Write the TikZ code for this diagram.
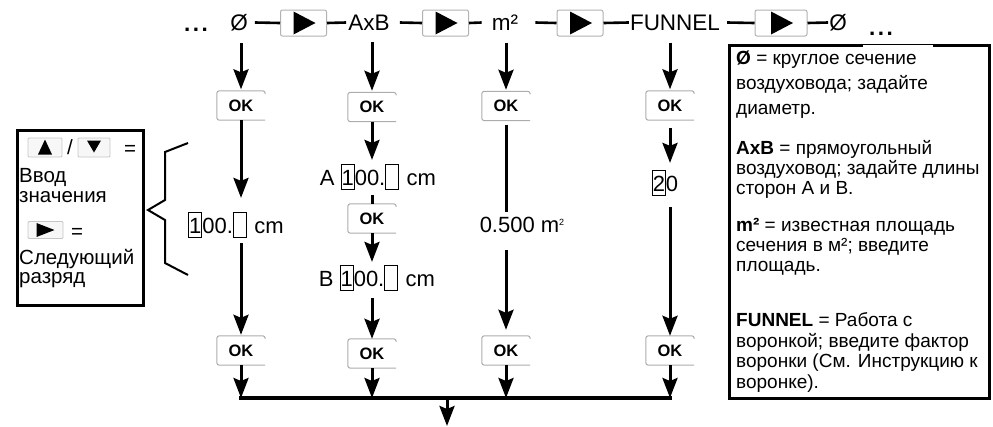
\documentclass[tikz,border=0pt]{standalone}
\usepackage{fontspec}
\setmainfont{Liberation Sans}
\usetikzlibrary{arrows.meta}

% font sizes used in the chart
\newcommand\fTop{\fontsize{22.5}{24}\selectfont}
\newcommand\fVal{\fontsize{22}{24}\selectfont}
\newcommand\fOK{\fontsize{16.5}{17}\selectfont\bfseries}
\newcommand\fLeg{\fontsize{19}{20}\selectfont}
\newcommand\fKey{\fontsize{20.5}{22}\selectfont}
% framed digit of an entry field
\newcommand\dgbox[1]{{\setlength\fboxsep{0pt}\setlength\fboxrule{0.9pt}\fbox{\rule[-4pt]{0pt}{24pt}#1}}}
% widely spaced ellipsis of the selection row
\newcommand\wdots{\textbf{.\kern2.5pt.\kern2.5pt.}}

\tikzset{
  link/.style={line width=2.6pt},
  arr/.style={line width=3pt, -{Stealth[length=20pt,width=15pt,inset=3pt]}},
  plain/.style={line width=3pt},
  okbox/.style={minimum width=48pt, minimum height=29pt, inner sep=0pt, font=\fOK},
  okframe/.style={draw=gray!65, line width=1pt, rounded corners=2.5pt},
  btn/.style={draw=gray!60, line width=1pt, rounded corners=2pt, fill=white,
              minimum width=46pt, minimum height=26pt, inner sep=0pt},
  sbtn/.style={draw=gray!45, fill=gray!6, line width=0.8pt, rounded corners=1pt,
               minimum width=33pt, minimum height=18pt, inner sep=0pt},
  frame/.style={line width=3pt},
  val/.style={inner sep=0pt, font=\fVal},
  toptxt/.style={inner sep=0pt, font=\fTop},
  legtxt/.style={inner sep=0pt, font=\fLeg, anchor=base west},
  keytxt/.style={inner sep=0pt, font=\fKey},
}

\begin{document}
\begin{tikzpicture}[x=1pt,y=-1pt]
\useasboundingbox (0,0) rectangle (993,426);

% ---- selection row -------------------------------------------------
\node[toptxt, anchor=base] (dotsL) at (196,31) {\wdots};
\node[toptxt] (phiA) at (239,22.5) {Ø};
\node[btn] (b1) at (303.5,23) {};
\node[toptxt] (axb) at (369,22.5) {AxB};
\node[btn] (b2) at (445.5,23) {};
\node[toptxt] (msq) at (505,22.5) {m²};
\node[btn] (b3) at (580,23) {};
\node[toptxt] (fun) at (675,22.5) {FUNNEL};
\node[btn, minimum width=52pt] (b4) at (781,23) {};
\node[toptxt] (phiB) at (838,22.5) {Ø};
\node[toptxt, anchor=base] (dotsR) at (881,35) {\wdots};

\foreach \b in {b1,b2,b3,b4}
  \fill ([shift={(-10,-11.5)}]\b.center) -- ([shift={(-10,11.5)}]\b.center)
        -- ([shift={(12,0)}]\b.center) -- cycle;

\draw[link] ([xshift=7pt]phiA.east) -- (b1.west);
\draw[link] (b1.east) -- ([xshift=-2pt]axb.west);
\draw[link] ([xshift=10pt]axb.east) -- (b2.west);
\draw[link] (b2.east) -- ([xshift=-10pt]msq.west);
\draw[link] ([xshift=17pt]msq.east) -- (b3.west);
\draw[link] (b3.east) -- ([xshift=-1pt]fun.west);
\draw[link] ([xshift=7pt]fun.east) -- (b4.west);
\draw[link] (b4.east) -- ([xshift=-1pt]phiB.west);

% ---- OK keys ---------------------------------------------------------
\node[okbox] (ok11) at (241,105.5) {OK};
\node[okbox] (ok12) at (372,107) {OK};
\node[okbox] (ok13) at (506,106) {OK};
\node[okbox] (ok14) at (670,105.5) {OK};
\node[okbox] (ok22) at (372,218.5) {OK};
\node[okbox] (ok31) at (241,350.5) {OK};
\node[okbox] (ok32) at (372,353.5) {OK};
\node[okbox] (ok33) at (506,350.5) {OK};
\node[okbox] (ok34) at (670,350.5) {OK};
\foreach \n in {ok11,ok12,ok13,ok14,ok22,ok31,ok32,ok33,ok34}
  \draw[okframe] ([yshift=-3pt]\n.north east) -- (\n.north east) -- (\n.north west)
                 -- (\n.south west) -- (\n.south east);

% ---- entry fields ------------------------------------------------------
\node[val] (v1) at (236,225) {\dgbox{1}00.\dgbox{\phantom{0}}\,\,cm};
\node[val] (vA) at (378,177) {A \dgbox{1}00.\dgbox{\phantom{0}}\,\,cm};
\node[val] (vB) at (377,278) {B \dgbox{1}00.\dgbox{\phantom{0}}\,\,cm};
\node[val, minimum height=26pt] (v3) at (522,225) {0.500 m\raisebox{7pt}{\fontsize{9}{9}\selectfont 2}};
\node[val] (v4) at (665,183) {\dgbox{2}0};

% ---- flow arrows -------------------------------------------------------
\draw[arr, shorten <=12pt] (ok11.north |- phiA.south) -- ([yshift=1.5pt]ok11.north);
\draw[arr, shorten <=12pt] (ok12.north |- axb.south) -- ([yshift=1.5pt]ok12.north);
\draw[arr, shorten <=12pt] (ok13.north |- msq.south) -- ([yshift=1.5pt]ok13.north);
\draw[arr, shorten <=12pt] (ok14.north |- fun.south) -- ([yshift=1.5pt]ok14.north);

\draw[arr, shorten >=14pt] (ok11.south) -- (ok11.south |- v1.north);
\draw[arr, shorten <=5pt] (ok11.south |- v1.south) -- ([yshift=1pt]ok31.north);

\draw[arr, shorten >=4pt] (ok12.south) -- (ok12.south |- vA.north);
\draw[plain, shorten <=5pt] (ok22.north |- vA.south) -- (ok22.north);
\draw[arr, shorten >=3pt] (ok22.south) -- (ok22.south |- vB.north);
\draw[arr, shorten <=7pt] (ok22.south |- vB.south) -- (ok32.north);

\draw[plain, shorten <=4pt] (ok13.south) -- (ok13.south |- v3.north);
\draw[arr, shorten <=12pt, shorten >=6pt] (ok13.south |- v3.south) -- (ok33.north);

\draw[arr, shorten <=8pt, shorten >=7pt] (ok14.south) -- (ok14.south |- v4.north);
\draw[arr, shorten <=11pt] (ok14.south |- v4.south) -- (ok34.north);

% ---- collecting bus ----------------------------------------------------
\coordinate (busL) at (241,398);
\coordinate (busR) at (670,398);
\coordinate (busM) at (447,398);
\coordinate (exit) at (447,426);
\draw[line width=3.5pt, line cap=rect] (busL) -- (busR);
\foreach \n in {ok31,ok32,ok33,ok34}
  \draw[arr] (\n.south) -- (\n.south |- busL);
\draw[arr] (busM) -- (exit);

% ---- key legend (left) -------------------------------------------------
\node[draw, frame, minimum width=126pt, minimum height=175pt] (keys) at (80,217.5) {};
\node[sbtn, minimum width=34pt, minimum height=19pt] (kup) at (45,147.5) {};
\node[sbtn, minimum width=32pt, minimum height=19pt] (kdn) at (94,147.5) {};
\node[keytxt] (slash) at (70,147) {/};
\node[keytxt] (eq1) at (130,150) {=};
\node[keytxt, anchor=base west] (t1) at (19,182) {Ввод};
\node[keytxt, anchor=base west] (t2) at (19,202) {значения};
\node[sbtn, minimum width=35pt, minimum height=17pt] (krt) at (45.5,230) {};
\node[keytxt] (eq2) at (77,233) {=};
\node[keytxt, anchor=base west] (t3) at (19,264) {Следующий};
\node[keytxt, anchor=base west] (t4) at (19,283) {разряд};
\fill ([shift={(-7,7)}]kup.center) -- ([shift={(7,7)}]kup.center) -- ([shift={(0,-8)}]kup.center) -- cycle;
\fill ([shift={(-7,-7)}]kdn.center) -- ([shift={(7,-7)}]kdn.center) -- ([shift={(0,5)}]kdn.center) -- cycle;
\fill ([shift={(-9,-7)}]krt.center) -- ([shift={(-9,7)}]krt.center) -- ([shift={(9,0)}]krt.center) -- cycle;

% brace grouping the entry fields
\draw[line width=2pt] (188,143) -- (165,152) -- (165,200) -- (148,210) -- (165,220)
                      -- (165,263) -- (188,275);

% ---- mode legend (right) -----------------------------------------------
\node[minimum width=259pt, minimum height=352pt, inner sep=0pt] (legbox) at (859.5,222) {};
\draw[frame] ([xshift=133pt]legbox.north west) -- (legbox.north west) -- (legbox.south west)
             -- (legbox.south east) -- (legbox.north east) -- ([xshift=-56pt]legbox.north east);
\draw[line width=0.8pt] ([xshift=133pt,yshift=1pt]legbox.north west) -- ([xshift=-56pt,yshift=1pt]legbox.north east);

\node[legtxt] (l1)  at (736,64)  {\textbf{Ø} = круглое сечение};
\node[legtxt] (l2)  at (736,89)  {воздуховода; задайте};
\node[legtxt] (l3)  at (736,114) {диаметр.};
\node[legtxt] (l4)  at (736,154) {\textbf{AxB} = прямоугольный};
\node[legtxt] (l5)  at (736,174) {воздуховод; задайте длины};
\node[legtxt] (l6)  at (736,194) {сторон А и В.};
\node[legtxt] (l7)  at (736,231) {\textbf{m²} = известная площадь};
\node[legtxt] (l8)  at (736,251) {сечения в м²; введите};
\node[legtxt] (l9)  at (736,271) {площадь.};
\node[legtxt] (l10) at (736,326) {\textbf{FUNNEL} = Работа с};
\node[legtxt] (l11) at (736,347) {воронкой; введите фактор};
\node[legtxt] (l12) at (736,367) {воронки (См. Инструкцию к};
\node[legtxt] (l13) at (736,388) {воронке).};
\end{tikzpicture}
\end{document}
